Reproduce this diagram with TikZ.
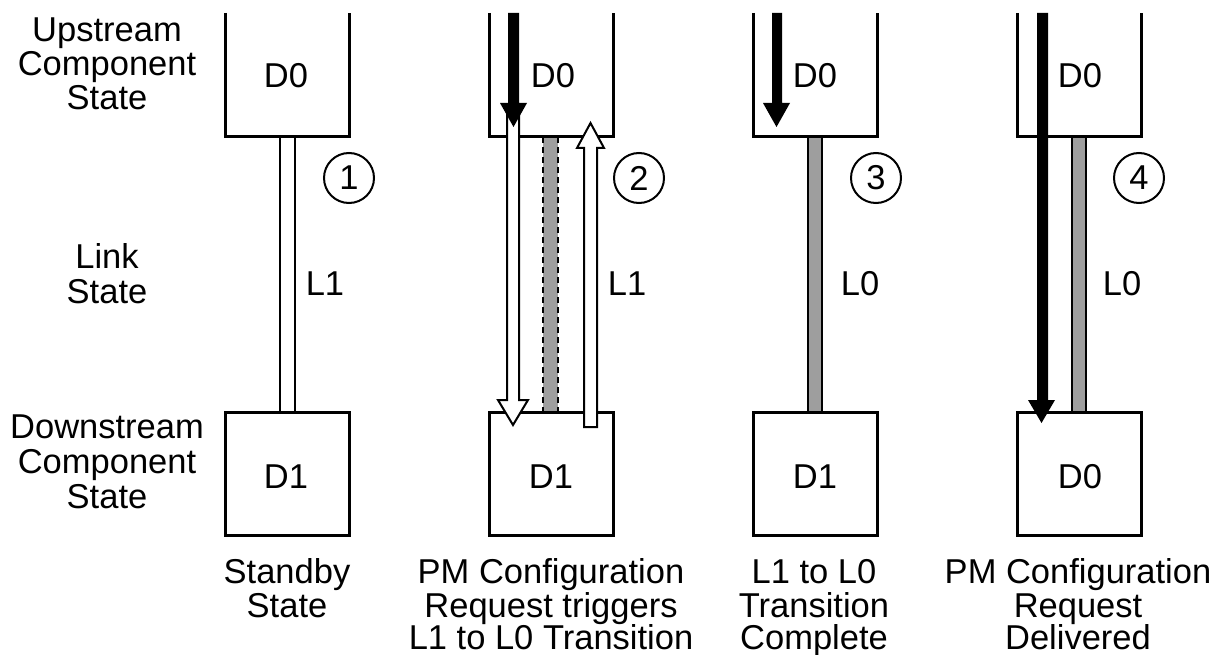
\documentclass[tikz,border=0pt]{standalone}
\usepackage{fontspec}
\setmainfont{Liberation Sans}
\definecolor{linkgray}{RGB}{158,158,158}
\begin{document}
\begin{tikzpicture}[x=1pt,y=-1pt,
  lbl/.style={font=\fontsize{34.5}{38}\selectfont, inner sep=0pt, anchor=base},
  num/.style={font=\fontsize{34.5}{38}\selectfont, circle, draw, line width=2pt, minimum size=50pt, inner sep=0pt},
  boxline/.style={line width=3pt, line join=miter},
  linkline/.style={line width=2pt},
  blackarrow/.style={fill=black, draw=none},
  whitearrow/.style={fill=white, draw=black, line width=2pt, line join=miter}]
\useasboundingbox (0,0) rectangle (1212,655);

% ---- left labels ----
\node[lbl] (u1) at (107,42) {Upstream};
\node[lbl] (u2) at (107,76) {Component};
\node[lbl] (u3) at (107,110) {State};
\node[lbl] (k1) at (107,268) {Link};
\node[lbl] (k2) at (107,303) {State};
\node[lbl] (d1) at (107,438) {Downstream};
\node[lbl] (d2) at (107,473) {Component};
\node[lbl] (d3) at (107,508) {State};

% ---- links ----
% panel 1
\fill[white] (280,137) rectangle (295,412);
\draw[linkline] (280,137) -- (280,412) (295,137) -- (295,412);
% panel 2
\fill[linkgray] (543,137) rectangle (558,412);
\draw[linkline, dash pattern=on 6pt off 4pt] (543,137) -- (543,412) (558,137) -- (558,412);
% panel 3
\fill[linkgray] (808,137) rectangle (822,412);
\draw[linkline] (808,137) -- (808,412) (822,137) -- (822,412);
% panel 4
\fill[linkgray] (1072,137) rectangle (1086,412);
\draw[linkline] (1072,137) -- (1072,412) (1086,137) -- (1086,412);

% ---- boxes ----
\foreach \l in {225,489,753,1017}{
  \draw[boxline] (\l,13) -- (\l,137) -- (\l+124,137) -- (\l+124,13);
  \draw[boxline] (\l,412) rectangle (\l+124,535);
}

% ---- box labels ----
\node[lbl] (p1u) at (286,88) {D0};
\node[lbl] (p2u) at (553,88) {D0};
\node[lbl] (p3u) at (815,88) {D0};
\node[lbl] (p4u) at (1080,88) {D0};
\node[lbl] (p1d) at (286,488) {D1};
\node[lbl] (p2d) at (551,488) {D1};
\node[lbl] (p3d) at (815,488) {D1};
\node[lbl] (p4d) at (1080,488) {D0};

% ---- link labels ----
\node[lbl] (l1) at (325,295) {L1};
\node[lbl] (l2) at (627,295) {L1};
\node[lbl] (l3) at (860,295) {L0};
\node[lbl] (l4) at (1122,295) {L0};

% ---- step numbers ----
\node[num] (n1) at (349,178) {1};
\node[num] (n2) at (639,178) {2};
\node[num] (n3) at (876,178) {3};
\node[num] (n4) at (1139,178) {4};

% ---- arrows ----
% panel 2 white down arrow
\draw[whitearrow] (507,110) -- (507,400) -- (498,400) -- (513,425) -- (528,400) -- (519,400) -- (519,110) -- cycle;
% panel 2 white up arrow
\draw[whitearrow] (584,427) -- (584,148) -- (577,148) -- (590.5,123) -- (604,148) -- (597,148) -- (597,427) -- cycle;
% panel 2 black arrow
\fill[blackarrow] (508,13) -- (508,103) -- (500,103) -- (513.5,127) -- (527,103) -- (519,103) -- (519,13) -- cycle;
% panel 3 black arrow
\fill[blackarrow] (772,13) -- (772,103) -- (763,103) -- (776.5,127) -- (790,103) -- (782,103) -- (782,13) -- cycle;
% panel 4 black arrow
\fill[blackarrow] (1037,13) -- (1037,400) -- (1028,400) -- (1041.5,423) -- (1055,400) -- (1048,400) -- (1048,13) -- cycle;

% ---- bottom labels ----
\node[lbl] (b11) at (287,583) {Standby};
\node[lbl] (b12) at (287,617) {State};
\node[lbl] (b21) at (551,583) {PM Configuration};
\node[lbl] (b22) at (551,617) {Request triggers};
\node[lbl] (b23) at (551,649) {L1 to L0 Transition};
\node[lbl] (b31) at (814,583) {L1 to L0};
\node[lbl] (b32) at (814,617) {Transition};
\node[lbl] (b33) at (814,649) {Complete};
\node[lbl] (b41) at (1078,583) {PM Configuration};
\node[lbl] (b42) at (1078,617) {Request};
\node[lbl] (b43) at (1078,649) {Delivered};
\end{tikzpicture}
\end{document}
